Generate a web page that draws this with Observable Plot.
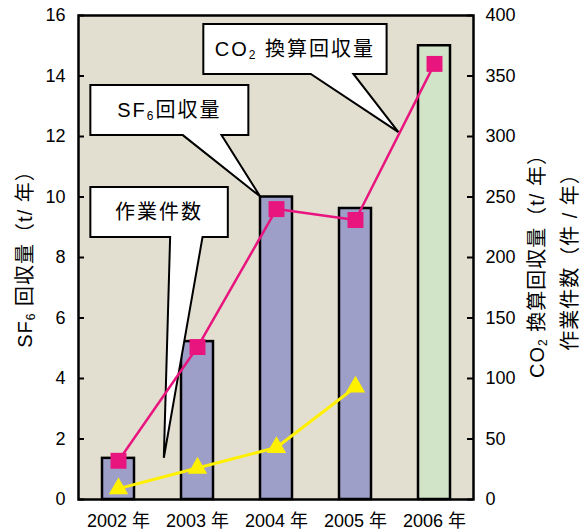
<!DOCTYPE html>
<html><head><meta charset="utf-8">
<script src="https://cdn.jsdelivr.net/npm/d3@7"></script>
<script src="https://cdn.jsdelivr.net/npm/@observablehq/plot@0.6"></script>
<style>body{margin:0;background:#fff}</style>
</head><body><div id="chart"></div>
<script>
const years = ["2002", "2003", "2004", "2005", "2006"];
const sf6 = [1.36, 5.22, 10.0, 9.62, 15.0];          // t/年 (left axis)
const co2 = [32, 126, 240, 231, 360];                 // CO2換算 t/年 (right axis)
const cases = [9, 26, 43, 93, null];                  // 件/年 (right axis)
const leftTicks = [0, 2, 4, 6, 8, 10, 12, 14, 16];
const rightTicks = [0, 50, 100, 150, 200, 250, 300, 350, 400];
const callouts = [
  {text: ["CO", "2", " 換算回収量"], box: [1.08, 3.40, 14.05, 15.70], tail: [2.44, 2.98], tip: [3.55, 12.13]},
  {text: ["SF", "6", "回収量"], box: [-0.35, 1.65, 12.03, 13.69], tail: [0.82, 1.31], tip: [1.80, 10.0]},
  {text: ["作業件数", "", ""], box: [-0.35, 1.39, 8.66, 10.31], tail: [0.66, 1.07], tip: [0.58, 1.36]}
];

const ratio = 16 / 400;
const table = years.map((year, i) => ({year, sf6: sf6[i], co2: co2[i], cases: cases[i]}));
const FONT = "'Liberation Sans', 'Noto Sans CJK JP', sans-serif";
const BEIGE = "#e3dfd0", LAV = "#9e9fc8", GREEN = "#d2e4c8", PINK = "#e8157f", YELLOW = "#fff000";

function annotations(index, scales, values, dim) {
  const xs = scales.x, ys = scales.y;
  const bw = typeof xs.bandwidth === "function" ? xs.bandwidth() : (xs.bandwidth || 0);
  const step = xs(years[1]) - xs(years[0]);
  const px = p => xs(years[0]) + bw / 2 + p * step;
  const g = d3.create("svg:g");
  for (const c of callouts) {
    const [x0, x1, y0, y1] = c.box;
    const pts = [
      [px(x0), ys(y1)], [px(x1), ys(y1)], [px(x1), ys(y0)],
      [px(c.tail[1]), ys(y0)], [px(c.tip[0]), ys(c.tip[1])], [px(c.tail[0]), ys(y0)],
      [px(x0), ys(y0)]
    ];
    g.append("path").attr("d", "M" + pts.join("L") + "Z")
      .attr("fill", "white").attr("stroke", "black").attr("stroke-width", 2).attr("stroke-linejoin", "miter");
    const t = g.append("text")
      .attr("x", (px(x0) + px(x1)) / 2).attr("y", (ys(y0) + ys(y1)) / 2).attr("dy", "0.36em")
      .attr("text-anchor", "middle").attr("font-size", 20).attr("letter-spacing", 2)
      .attr("font-family", FONT).attr("fill", "black");
    t.append("tspan").text(c.text[0]);
    if (c.text[1]) t.append("tspan").attr("font-size", 12).attr("dy", "0.2em").text(c.text[1]);
    if (c.text[2]) t.append("tspan").attr("dy", c.text[1] ? "-0.12em" : null).text(c.text[2]);
  }
  return g.node();
}

function titles(index, scales, values, dim) {
  const {width, height, marginLeft, marginRight, marginTop, marginBottom} = dim;
  const cy = (marginTop + height - marginBottom) / 2;
  const g = d3.create("svg:g").attr("font-family", FONT).attr("font-size", 20)
    .attr("letter-spacing", 1).attr("fill", "black");
  const add = (x, y, parts) => {
    const t = g.append("text").attr("transform", `translate(${x},${y}) rotate(-90)`)
      .attr("text-anchor", "middle").attr("dy", "0.36em");
    let prevSub = false;
    for (const [s, sub] of parts) {
      if (sub) t.append("tspan").attr("font-size", 12).attr("dy", "0.25em").text(s);
      else t.append("tspan").attr("dy", prevSub ? "-0.15em" : null).text(s);
      prevSub = sub;
    }
  };
  add(marginLeft - 53, cy - 3, [["SF", false], ["6", true], [" 回収量（t/ 年）", false]]);
  add(width - marginRight + 64, cy + 4, [["CO", false], ["2", true], [" 換算回収量（t/ 年）", false]]);
  add(width - marginRight + 97, cy, [["作業件数（件 / 年）", false]]);
  return g.node();
}

const chart = Plot.plot({
  width: 582, height: 531,
  marginLeft: 78, marginRight: 109, marginTop: 15, marginBottom: 32,
  style: {fontFamily: FONT, fontSize: "18px", background: "white", color: "black"},
  x: {domain: years, paddingInner: 0.595, paddingOuter: 0.2975, label: null},
  y: {domain: [0, 16], label: null},
  marks: [
    Plot.frame({fill: BEIGE, stroke: null}),
    Plot.barY(table, {x: "year", y: "sf6", fill: d => d.year === "2006" ? GREEN : LAV, stroke: "black", strokeWidth: 2.5}),
    annotations,
    Plot.line(table, {x: "year", y: d => d.co2 * ratio, stroke: PINK, strokeWidth: 2.5}),
    Plot.line(table.filter(d => d.cases != null), {x: "year", y: d => d.cases * ratio, stroke: YELLOW, strokeWidth: 3}),
    Plot.dot(table, {x: "year", y: d => d.co2 * ratio, symbol: "square", r: 9, fill: PINK, stroke: null}),
    Plot.dot(table.filter(d => d.cases != null), {x: "year", y: d => d.cases * ratio, symbol: "triangle", r: 7.2, fill: YELLOW, stroke: null}),
    Plot.tickY(leftTicks, {y: d => d, insetRight: 389, stroke: "black", strokeWidth: 2}),
    Plot.tickY(rightTicks, {y: d => d * ratio, insetLeft: 389, stroke: "black", strokeWidth: 2}),
    Plot.frame({stroke: "black", strokeWidth: 2.5}),
    Plot.axisY(leftTicks, {anchor: "left", tickSize: 0, tickPadding: 13, label: null}),
    Plot.axisY(rightTicks.map(v => v * ratio), {anchor: "right", tickSize: 0, tickPadding: 12, tickFormat: d => String(Math.round(d / ratio)), label: null}),
    Plot.axisX({tickSize: 0, tickPadding: 15, tickFormat: d => `${d} 年`, label: null}),
    titles
  ]
});
document.getElementById("chart").append(chart);
</script>
</body></html>
